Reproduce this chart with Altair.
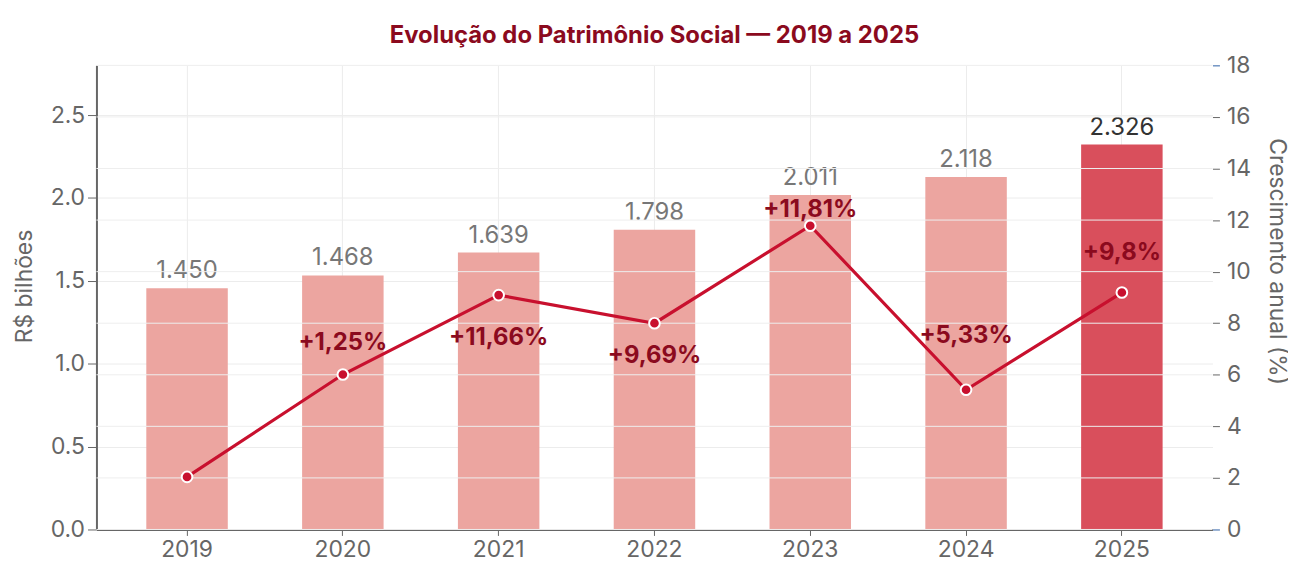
import altair as alt
import pandas as pd

# ---- data ----
years = ["2019", "2020", "2021", "2022", "2023", "2024", "2025"]
patrimonio = [1.455, 1.533, 1.671, 1.808, 2.018, 2.126, 2.323]
patrimonio_labels = ["1.450", "1.468", "1.639", "1.798", "2.011", "2.118", "2.326"]
destaque = [False, False, False, False, False, False, True]
crescimento = [2.04, 6.01, 9.09, 8.00, 11.78, 5.42, 9.19]
crescimento_labels = ["", "+1,25%", "+11,66%", "+9,69%", "+11,81%", "+5,33%", "+9,8%"]
crescimento_label_pos = [None, 7.23, 7.42, 6.73, 12.38, 7.50, 10.73]
left_ticks = [0.0, 0.5, 1.0, 1.5, 2.0, 2.5]
right_ticks = [0, 2, 4, 6, 8, 10, 12, 14, 16, 18]

df = pd.DataFrame({
    "ano": years,
    "valor": patrimonio,
    "rotulo": patrimonio_labels,
    "destaque": destaque,
    "cresc": crescimento,
    "cresc_txt": crescimento_labels,
    "cresc_pos": crescimento_label_pos,
})
grid_df = pd.DataFrame({"g": right_ticks})

W, H = 1123, 467
FONT = "Inter"
GREY = "#666666"
AX_FS = 23

x_axis = alt.Axis(title=None, labelFontSize=AX_FS, labelColor=GREY, labelFont=FONT,
                  domainColor=GREY, domainWidth=2, tickColor=GREY, tickSize=6,
                  labelPadding=3, grid=True, gridColor="#ececec", labelAngle=0)
x_scale = alt.Scale(paddingInner=0.477, paddingOuter=0.32)

def xe():
    return alt.X("ano:N", sort=years, scale=x_scale, axis=x_axis)

left_scale = alt.Scale(domain=[0, 2.8], nice=False)
right_scale = alt.Scale(domain=[0, 18], nice=False)

left_axis = alt.Axis(values=left_ticks, format=".1f", title="R$ bilhões",
                     titleFontSize=AX_FS, titleColor=GREY, titleFontWeight="normal",
                     titleFont=FONT, labelFont=FONT,
                     labelFontSize=AX_FS, labelColor=GREY, domainColor=GREY,
                     domainWidth=2, tickColor=GREY, tickSize=9, labelPadding=3,
                     gridColor="#ececec", titlePadding=14, titleY=222)

right_axis = alt.Axis(orient="right", values=right_ticks, title="Crescimento anual (%)",
                      titleFontSize=AX_FS, titleColor=GREY, titleFontWeight="normal",
                      titleFont=FONT, labelFont=FONT,
                      labelFontSize=AX_FS, labelColor=GREY, domain=False, grid=False,
                      tickSize=7, labelPadding=7, titlePadding=14, titleY=197,
                      tickColor={"condition": {"test": "datum.value == 0 || datum.value == 18",
                                               "value": "#2b5fa6"},
                                 "value": GREY})

bars = alt.Chart(df).mark_bar().encode(
    x=xe(),
    y=alt.Y("valor:Q", scale=left_scale, axis=left_axis),
    color=alt.condition("datum.destaque", alt.value("#d94f5c"), alt.value("#eca5a0")),
)

bar_text = alt.Chart(df).mark_text(fontSize=24, font=FONT, baseline="alphabetic", dy=-10).encode(
    x=xe(),
    y=alt.Y("valor:Q", scale=left_scale, axis=left_axis),
    text="rotulo:N",
    color=alt.condition("datum.destaque", alt.value("#333333"), alt.value("#777777")),
)

left = alt.layer(bars, bar_text)

grid_rules = alt.Chart(grid_df).mark_rule(color="#eeeeee", strokeWidth=1).encode(
    y=alt.Y("g:Q", scale=right_scale, axis=right_axis),
    x=alt.value(0), x2=alt.value(W),
)

line = alt.Chart(df).mark_line(color="#c8102e", strokeWidth=3.2).encode(
    x=xe(),
    y=alt.Y("cresc:Q", scale=right_scale, axis=right_axis),
)

points = alt.Chart(df).mark_point(filled=True, size=115, color="#c8102e", stroke="white",
                                  strokeWidth=2, opacity=1).encode(
    x=xe(),
    y=alt.Y("cresc:Q", scale=right_scale, axis=right_axis),
)

pct_text = alt.Chart(df).transform_filter("datum.cresc_pos != null").mark_text(
    fontSize=24, fontWeight="bold", font=FONT, color="#8b0a1e", baseline="middle"
).encode(
    x=xe(),
    y=alt.Y("cresc_pos:Q", scale=right_scale, axis=right_axis),
    text="cresc_txt:N",
)

right = alt.layer(grid_rules, line, points, pct_text)

chart = alt.layer(left, right).resolve_scale(y="independent").properties(
    width=W, height=H,
    padding={"left": 5, "top": 14, "right": 0, "bottom": 0},
    title=alt.Title("Evolução do Patrimônio Social — 2019 a 2025", fontSize=24,
                    fontWeight="bold", color="#8b0a1e", font=FONT, anchor="middle",
                    offset=7),
).configure(font=FONT).configure_view(stroke=None)

chart.save("out.html", embed_options={"renderer": "svg", "actions": False})
